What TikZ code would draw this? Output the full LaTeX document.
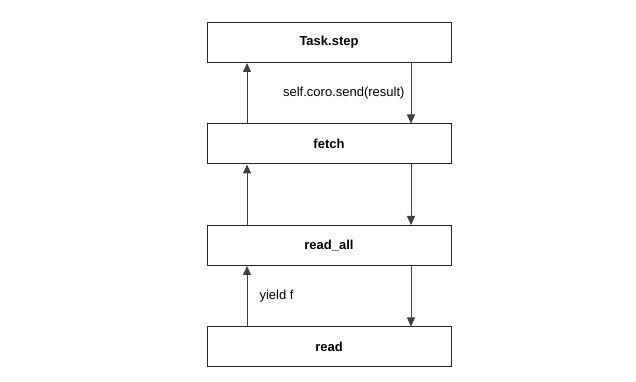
\documentclass[tikz,border=0pt]{standalone}
\usepackage{fontspec}
\setmainfont{Liberation Sans}
\usetikzlibrary{positioning,arrows.meta}
\def\dy{60.5pt}
\def\dx{82pt}
\tikzstyle{frame}=[draw=black!85,line width=1pt,minimum width=244pt,minimum height=40pt,inner sep=0pt,font=\fontsize{13}{15}\selectfont\bfseries]
\tikzstyle{call}=[font=\fontsize{13}{15}\selectfont,inner sep=0pt]
\newcommand{\newFrame}[3]{\node[frame,#3](#1){#2};}
\newcommand{\newUp}[2]{\draw[->] ([xshift=-\dx]#1.north) -- ([xshift=-\dx]#2.south);}
\newcommand{\newDown}[2]{\draw[->] ([xshift=\dx]#1.south) -- ([xshift=\dx]#2.north);}

\begin{document}
\begin{tikzpicture}[node distance=\dy,
    >={Triangle[length=9pt,width=8pt]},
    line width=1pt,draw=black!75
    ]
    \useasboundingbox (0,0) rectangle (636pt,382pt);
    \newFrame{step}{Task.step}{at={(329pt,339.5pt)}}
    \newFrame{fetch}{fetch}{below=of step}
    \newFrame{readall}{read\_all}{below=of fetch}
    \newFrame{read}{read}{below=of readall}
    \newUp{fetch}{step}
    \newUp{readall}{fetch}
    \newUp{read}{readall}
    \newDown{step}{fetch}
    \newDown{fetch}{readall}
    \newDown{readall}{read}
    % labels
    \path ([xshift=\dx]step.south) -- ([xshift=\dx]fetch.north)
      node[call,midway,left=6pt]{self.coro.send(result)};
    \path ([xshift=-\dx]read.north) -- ([xshift=-\dx]readall.south)
      node[call,midway,right=12pt]{yield f};
  \end{tikzpicture}
\end{document}
